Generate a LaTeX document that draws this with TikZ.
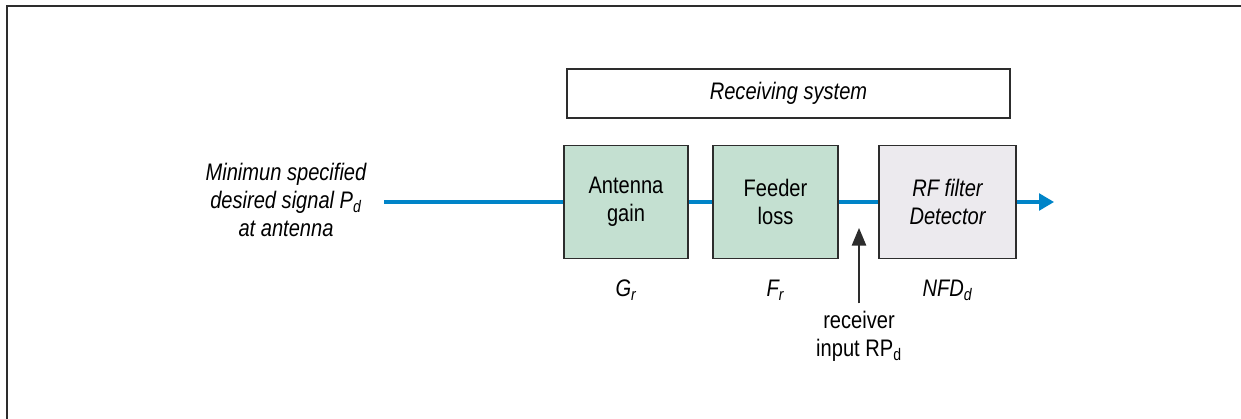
\documentclass[tikz,border=0pt]{standalone}
\usepackage{fontspec}
\setmainfont{Liberation Sans}[FakeStretch=0.84]
\usetikzlibrary{arrows.meta}
\definecolor{boxgreen}{RGB}{196,224,209}
\definecolor{boxgrey}{RGB}{236,234,238}
\definecolor{sigblue}{RGB}{0,132,200}
\definecolor{edge}{RGB}{45,45,45}

\begin{document}
\begin{tikzpicture}[x=0.025cm,y=-0.025cm,
    txt/.style={align=center,inner sep=0pt,font=\fontsize{17}{20}\selectfont},
    itx/.style={txt,font=\fontsize{17}{20}\selectfont\itshape},
    blk/.style={txt,draw=edge,line width=0.9pt,minimum height=2.825cm},
    sig/.style={sigblue,line width=2.2pt}]
    \useasboundingbox (0,0) rectangle (1241,419);
    \draw[edge,line width=1pt] (7,419) -- (7,6) -- (1241,6);
    % receiving chain
    \node[blk,minimum width=11.075cm,minimum height=1.225cm] (sys) at (788.5,93.5) {\itshape Receiving system};
    \node[blk,fill=boxgreen,minimum width=3.1cm] (ant) at (626,202) {Antenna\\gain};
    \node[blk,fill=boxgreen,minimum width=3.125cm] (feed) at (775.5,202) {Feeder\\loss};
    \node[blk,fill=boxgrey,minimum width=3.425cm] (rf) at (947.5,202) {\itshape RF filter\\\itshape Detector};
    \node[itx] (src) at (286,200) {Minimun specified\\desired signal P\textsubscript{d}\\at antenna};
    \node[itx] (gr) at (626,290) {G\textsubscript{r}};
    \node[itx] (fr) at (775.5,290) {F\textsubscript{r}};
    \node[itx] (nfd) at (947.5,290) {NFD\textsubscript{d}};
    \node[txt] (rx) at (859,336) {receiver\\input RP\textsubscript{d}};
    \coordinate (in) at (384,202);
    \coordinate (out) at (1054,202);
    % signal path
    \draw[sig] (in) -- (ant.west);
    \draw[sig] (ant.east) -- (feed.west);
    \draw[sig] (feed.east) -- (rf.west);
    \draw[sig,-{Triangle[length=0.375cm,width=0.42cm]}] (rf.east) -- (out);
    \draw[edge,line width=0.9pt,-{Triangle[length=0.44cm,width=0.36cm]}] ([yshift=5pt]rx.north) -- (859,228);
\end{tikzpicture}
\end{document}
